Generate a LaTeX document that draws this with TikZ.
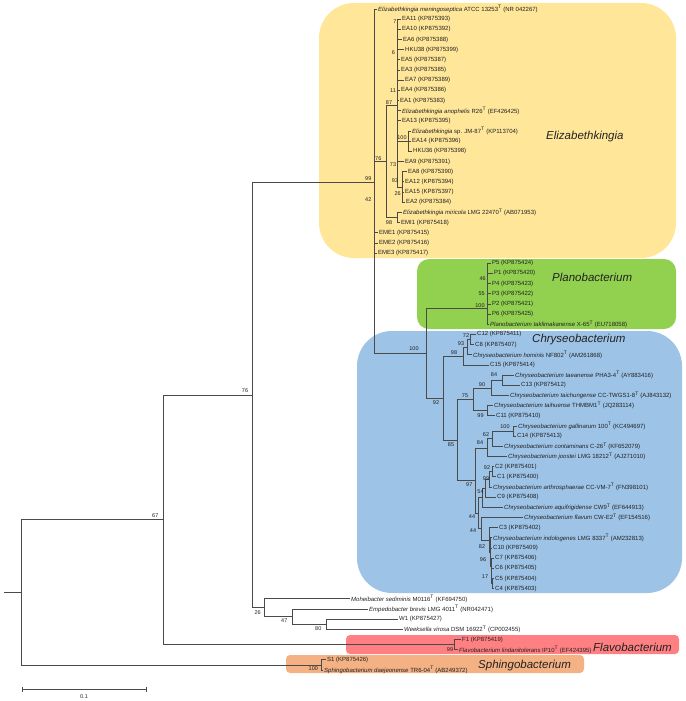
\documentclass[tikz,border=0pt]{standalone}
\usepackage{fontspec}
\setmainfont{Liberation Sans}
\definecolor{yel}{HTML}{FFE699}
\definecolor{grn}{HTML}{92D050}
\definecolor{blu}{HTML}{9DC3E6}
\definecolor{pnk}{HTML}{FF8082}
\definecolor{org}{HTML}{F4B183}
\definecolor{ln}{HTML}{4A4A4A}
\definecolor{tx}{HTML}{222222}
\tikzset{
 br/.style={draw=ln, line width=0.8pt},
 leaf/.style={anchor=west, inner xsep=1pt, inner ysep=0pt, font=\fontsize{6}{7}\selectfont, text=tx},
 bsn/.style={inner sep=0pt, font=\fontsize{5.5}{6}\selectfont, text=tx},
 grp/.style={anchor=west, inner sep=0pt, font=\fontsize{11.5}{13}\selectfont\itshape, text=tx}
}
\newcommand{\leafnode}[5]{\node[leaf] (#1) at (#4,{9+10.17*#2}) {#5}; \draw[br] (#3) |- (#1.west);}
\newcommand{\bsnode}[4]{\node[bsn] (#1) at (#2,#3) {#4};}
\begin{document}
\begin{tikzpicture}[x=1pt,y=-1pt]
\useasboundingbox (0,0) rectangle (685,701);
% clade boxes
\fill[yel, rounded corners=35pt] (319,3) rectangle (676,258);
\fill[grn, rounded corners=12pt] (417,259) rectangle (676,329);
\fill[blu, rounded corners=35pt] (357,331) rectangle (682,593);
\fill[pnk, rounded corners=4pt] (346,635) rectangle (679,654);
\fill[org, rounded corners=4pt] (286,655) rectangle (584,673);
% internal nodes
\coordinate (r0) at (4,592.4);
\coordinate (root) at (21,592.4);
\coordinate (n67) at (163,519.8);
\coordinate (n76r) at (252,394.9);
\coordinate (nE) at (374,182);
\coordinate (n76) at (386,161.2);
\coordinate (n87) at (397,105);
\coordinate (nJM) at (408,141.21);
\coordinate (n93) at (402,187);
\coordinate (n98m) at (397,217.5);
\coordinate (n100p) at (426,353);
\coordinate (nPl) at (487,308);
\coordinate (n92) at (443,398);
\coordinate (n98c) at (463,356);
\coordinate (n93c) at (467,347.5);
\coordinate (n72) at (470,339.5);
\coordinate (n85) at (457,440);
\coordinate (n75) at (473,399.5);
\coordinate (n90) at (491,388);
\coordinate (n84a) at (502,380.2);
\coordinate (n99c) at (487,410.7);
\coordinate (n97) at (475,480.5);
\coordinate (n84b) at (487,448);
\coordinate (n62) at (492,438.7);
\coordinate (n100g) at (513,431);
\coordinate (n44u) at (478,513);
\coordinate (nAq) at (482,497.5);
\coordinate (n54) at (485,488);
\coordinate (n99b) at (489,479.5);
\coordinate (n92b) at (492,471.7);
\coordinate (n44l) at (481,528.8);
\coordinate (nC3) at (489,540);
\coordinate (n82) at (490,552);
\coordinate (n96) at (491,566);
\coordinate (n17) at (492,583.6);
\coordinate (n26) at (264,607.8);
\coordinate (n47) at (292,616.7);
\coordinate (n80) at (326,624.3);
\coordinate (n99f) at (454,644.6);
\coordinate (n100s) at (321,665);
% internal edges
\draw[br] (r0) -- (root);
\draw[br] (root) |- (n67);
\draw[br] (root) |- (n100s);
\draw[br] (n67) |- (n76r);
\draw[br] (n67) |- (n99f);
\draw[br] (n76r) |- (nE);
\draw[br] (n76r) |- (n26);
\draw[br] (nE) |- (n76);
\draw[br] (nE) |- (n100p);
\draw[br] (n76) |- (n87);
\draw[br] (n76) |- (n98m);
\draw[br] (n87) |- (nJM);
\draw[br] (n87) |- (n93);
\draw[br] (n100p) |- (nPl);
\draw[br] (n100p) |- (n92);
\draw[br] (n92) |- (n98c);
\draw[br] (n92) |- (n85);
\draw[br] (n98c) |- (n93c);
\draw[br] (n93c) |- (n72);
\draw[br] (n85) |- (n75);
\draw[br] (n85) |- (n97);
\draw[br] (n75) |- (n90);
\draw[br] (n75) |- (n99c);
\draw[br] (n90) |- (n84a);
\draw[br] (n97) |- (n84b);
\draw[br] (n97) |- (n44u);
\draw[br] (n84b) |- (n62);
\draw[br] (n62) |- (n100g);
\draw[br] (n44u) |- (nAq);
\draw[br] (n44u) |- (n44l);
\draw[br] (nAq) |- (n54);
\draw[br] (n54) |- (n99b);
\draw[br] (n99b) |- (n92b);
\draw[br] (n44l) |- (nC3);
\draw[br] (nC3) |- (n82);
\draw[br] (n82) |- (n96);
\draw[br] (n96) |- (n17);
\draw[br] (n26) |- (n47);
\draw[br] (n47) |- (n80);
% leaves
\leafnode{L0}{0}{nE}{377}{\textit{Elizabethkingia meningoseptica} ATCC 13253\textsuperscript{T} (NR 042267)}
\leafnode{L1}{1}{n87}{401}{EA11 (KP875393)}
\leafnode{L2}{2}{n87}{401}{EA10 (KP875392)}
\leafnode{L3}{3}{n87}{402}{EA6 (KP875388)}
\leafnode{L4}{4}{n87}{404}{HKU38 (KP875399)}
\leafnode{L5}{5}{n87}{400}{EA5 (KP875387)}
\leafnode{L6}{6}{n87}{400}{EA3 (KP875385)}
\leafnode{L7}{7}{n87}{404}{EA7 (KP875389)}
\leafnode{L8}{8}{n87}{400}{EA4 (KP875386)}
\leafnode{L9}{9}{n87}{399}{EA1 (KP875383)}
\leafnode{L10}{10}{n87}{401}{\textit{Elizabethkingia anophelis} R26\textsuperscript{T} (EF426425)}
\leafnode{L11}{11}{n87}{401}{EA13 (KP875395)}
\leafnode{L12}{12}{nJM}{411}{\textit{Elizabethkingia} sp. JM-87\textsuperscript{T} (KP113704)}
\leafnode{L13}{13}{nJM}{411}{EA14 (KP875396)}
\leafnode{L14}{14}{nJM}{412}{HKU36 (KP875398)}
\leafnode{L15}{15}{n87}{404}{EA9 (KP875391)}
\leafnode{L16}{16}{n93}{407}{EA8 (KP875390)}
\leafnode{L17}{17}{n93}{404}{EA12 (KP875394)}
\leafnode{L18}{18}{n93}{404}{EA15 (KP875397)}
\leafnode{L19}{19}{n93}{405}{EA2 (KP875384)}
\leafnode{L20}{20}{n98m}{402}{\textit{Elizabethkingia miricola} LMG 22470\textsuperscript{T} (AB071953)}
\leafnode{L21}{21}{n98m}{400}{EMI1 (KP875418)}
\leafnode{L22}{22}{nE}{378}{EME1 (KP875415)}
\leafnode{L23}{23}{nE}{378}{EME2 (KP875416)}
\leafnode{L24}{24}{nE}{377}{EME3 (KP875417)}
\leafnode{L25}{25}{nPl}{491}{P5 (KP875424)}
\leafnode{L26}{26}{nPl}{493}{P1 (KP875420)}
\leafnode{L27}{27}{nPl}{491}{P4 (KP875423)}
\leafnode{L28}{28}{nPl}{491}{P3 (KP875422)}
\leafnode{L29}{29}{nPl}{491}{P2 (KP875421)}
\leafnode{L30}{30}{nPl}{491}{P6 (KP875425)}
\leafnode{L31}{31}{nPl}{489}{\textit{Planobacterium taklimakanense} X-65\textsuperscript{T} (EU718058)}
\leafnode{L32}{32}{n72}{476}{C12 (KP875411)}
\leafnode{L33}{33}{n72}{474}{C8 (KP875407)}
\leafnode{L34}{34}{n93c}{472}{\textit{Chryseobacterium hominis} NF802\textsuperscript{T} (AM261868)}
\leafnode{L35}{35}{n98c}{489}{C15 (KP875414)}
\leafnode{L36}{36}{n84a}{514}{\textit{Chryseobacterium taeanense} PHA3-4\textsuperscript{T} (AY883416)}
\leafnode{L37}{37}{n84a}{520}{C13 (KP875412)}
\leafnode{L38}{38}{n90}{509}{\textit{Chryseobacterium taichungense} CC-TWGS1-8\textsuperscript{T} (AJ843132)}
\leafnode{L39}{39}{n99c}{493}{\textit{Chryseobacterium taihuense} THMBM1\textsuperscript{T} (JQ283114)}
\leafnode{L40}{40}{n99c}{495}{C11 (KP875410)}
\leafnode{L41}{41}{n100g}{517}{\textit{Chryseobacterium gallinarum} 100\textsuperscript{T} (KC494697)}
\leafnode{L42}{42}{n100g}{516}{C14 (KP875413)}
\leafnode{L43}{43}{n62}{503}{\textit{Chryseobacterium contaminans} C-26\textsuperscript{T} (KF652079)}
\leafnode{L44}{44}{n84b}{507}{\textit{Chryseobacterium joostei} LMG 18212\textsuperscript{T} (AJ271010)}
\leafnode{L45}{45}{n92b}{494}{C2 (KP875401)}
\leafnode{L46}{46}{n92b}{496}{C1 (KP875400)}
\leafnode{L47}{47}{n99b}{492}{\textit{Chryseobacterium arthrosphaerae} CC-VM-7\textsuperscript{T} (FN398101)}
\leafnode{L48}{48}{n54}{496}{C9 (KP875408)}
\leafnode{L49}{49}{nAq}{503}{\textit{Chryseobacterium aquifrigidense} CW9\textsuperscript{T} (EF644913)}
\leafnode{L50}{50}{n44l}{523}{\textit{Chryseobacterium flavum} CW-E2\textsuperscript{T} (EF154516)}
\leafnode{L51}{51}{nC3}{498}{C3 (KP875402)}
\leafnode{L52}{52}{n82}{492}{\textit{Chryseobacterium indologenes} LMG 8337\textsuperscript{T} (AM232813)}
\leafnode{L53}{53}{n82}{492}{C10 (KP875409)}
\leafnode{L54}{54}{n96}{494}{C7 (KP875406)}
\leafnode{L55}{55}{n96}{494}{C6 (KP875405)}
\leafnode{L56}{56}{n17}{494}{C5 (KP875404)}
\leafnode{L57}{57}{n17}{494}{C4 (KP875403)}
\leafnode{L58}{58}{n26}{350}{\textit{Moheibacter sediminis} M0116\textsuperscript{T} (KF694750)}
\leafnode{L59}{59}{n47}{368}{\textit{Empedobacter brevis} LMG 4011\textsuperscript{T} (NR042471)}
\leafnode{L60}{60}{n80}{398}{W1 (KP875427)}
\leafnode{L61}{61}{n80}{403}{\textit{Weeksella virosa} DSM 16922\textsuperscript{T} (CP002455)}
\leafnode{L62}{62}{n99f}{461}{F1 (KP875419)}
\leafnode{L63}{63}{n99f}{458}{\textit{Flavobacterium lindanitolerans} IP10\textsuperscript{T} (EF424395)}
\leafnode{L64}{64}{n100s}{326}{S1 (KP875426)}
\leafnode{L65}{65}{n100s}{323}{\textit{Sphingobacterium daejeonense} TR6-04\textsuperscript{T} (AB249372)}
% bootstrap values
\bsnode{b1}{395}{21.7}{7}
\bsnode{b2}{393.3}{52.7}{6}
\bsnode{b3}{393}{90.7}{11}
\bsnode{b4}{389}{103}{87}
\bsnode{b5}{402}{138}{100}
\bsnode{b6}{378.3}{159}{76}
\bsnode{b7}{393}{164.5}{73}
\bsnode{b8}{368.3}{179}{99}
\bsnode{b9}{395}{180.7}{93}
\bsnode{b10}{397.7}{193.3}{26}
\bsnode{b11}{368.3}{199.3}{42}
\bsnode{b12}{389}{222.7}{98}
\bsnode{b13}{482.7}{278.3}{46}
\bsnode{b14}{481.7}{293.3}{55}
\bsnode{b15}{480}{306}{100}
\bsnode{b16}{414}{349}{100}
\bsnode{b17}{466}{336}{72}
\bsnode{b18}{461}{344}{93}
\bsnode{b19}{454}{353}{98}
\bsnode{b20}{494}{375}{84}
\bsnode{b21}{482}{384.5}{90}
\bsnode{b22}{465}{395.5}{75}
\bsnode{b23}{436}{403}{92}
\bsnode{b24}{480.5}{415.5}{99}
\bsnode{b25}{505}{427}{100}
\bsnode{b26}{486}{434.5}{62}
\bsnode{b27}{480}{443}{84}
\bsnode{b28}{451}{445}{85}
\bsnode{b29}{487}{467.5}{92}
\bsnode{b30}{469.3}{485}{97}
\bsnode{b31}{486}{479}{99}
\bsnode{b32}{480.5}{492}{54}
\bsnode{b33}{472}{517}{44}
\bsnode{b34}{473}{530.5}{44}
\bsnode{b35}{482}{547}{82}
\bsnode{b36}{483}{560}{96}
\bsnode{b37}{485}{577}{17}
\bsnode{b38}{245}{390.5}{76}
\bsnode{b39}{155.3}{515.3}{67}
\bsnode{b40}{257.7}{612.3}{26}
\bsnode{b41}{284.3}{620.7}{47}
\bsnode{b42}{318.3}{629}{80}
\bsnode{b43}{450}{649.3}{99}
\bsnode{b44}{313.3}{668.3}{100}
% clade names
\node[grp] (gE) at (546,137) {Elizabethkingia};
\node[grp] (gP) at (552,277) {Planobacterium};
\node[grp] (gC) at (532,340) {Chryseobacterium};
\node[grp] (gF) at (593,647) {Flavobacterium};
\node[grp] (gS) at (478,666) {Sphingobacterium};
% scale bar
\coordinate (sbL) at (22,689);
\coordinate (sbR) at (146,689);
\draw[br] (sbL) -- (sbR);
\draw[br] ([yshift=2.5pt]sbL) -- ([yshift=-2.5pt]sbL);
\draw[br] ([yshift=2.5pt]sbR) -- ([yshift=-2.5pt]sbR);
\node[bsn] (sbt) at (84,697) {0.1};
\end{tikzpicture}
\end{document}
